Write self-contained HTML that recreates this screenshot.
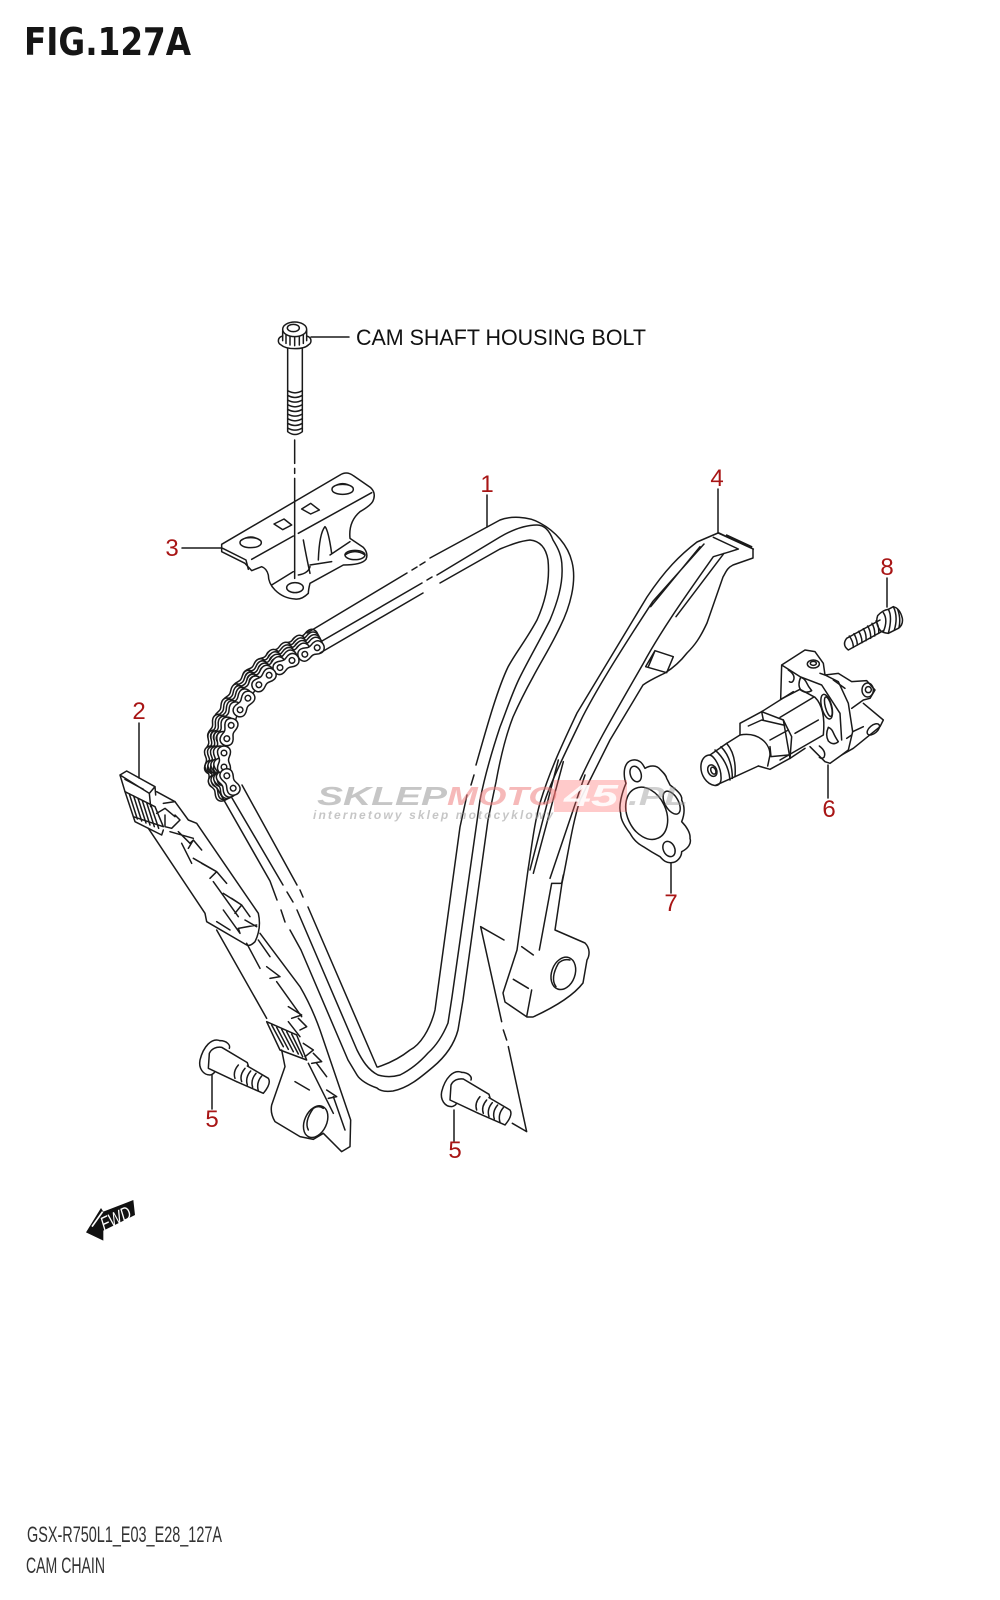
<!DOCTYPE html>
<html><head><meta charset="utf-8"><title>FIG.127A CAM CHAIN</title>
<style>
html,body{margin:0;padding:0;background:#fff;width:1000px;height:1600px;overflow:hidden}
svg{display:block}
.l,.l *{fill:none;stroke:#1a1a1a;stroke-width:1.5;stroke-linecap:round;stroke-linejoin:round;vector-effect:non-scaling-stroke}
.w{fill:#fff!important}
.n{font-family:"Liberation Sans",sans-serif;font-size:24px;fill:#a81515;text-anchor:middle}
</style></head><body>
<svg width="1000" height="1600" viewBox="0 0 1000 1600" xmlns="http://www.w3.org/2000/svg">
<defs>
<path id="pl" d="M-8,-6.5C-4,-6.5 -3,-4.5 0,-4.5C3,-4.5 4,-6.5 8,-6.5C12,-6.5 14,-3 14,0C14,3 12,6.5 8,6.5C4,6.5 3,4.5 0,4.5C-3,4.5 -4,6.5 -8,6.5C-12,6.5 -14,3 -14,0C-14,-3 -12,-6.5 -8,-6.5Z"/>
<g id="front">
<use href="#pl" class="w"/>
<circle cx="-7" cy="0" r="2.8" class="w"/><circle cx="7" cy="0" r="2.8" class="w"/>
</g>
<g id="lay13">
<use href="#pl" class="w" transform="translate(311,651) rotate(-28) translate(0,-13)"/>
<use href="#pl" class="w" transform="translate(299,657) rotate(-29) translate(0,-13)"/>
<use href="#pl" class="w" transform="translate(286,664) rotate(-31) translate(0,-13)"/>
<use href="#pl" class="w" transform="translate(275,671) rotate(-36) translate(0,-13)"/>
<use href="#pl" class="w" transform="translate(264,680) rotate(-43) translate(0,-13)"/>
<use href="#pl" class="w" transform="translate(254,691) rotate(-50) translate(0,-13)"/>
<use href="#pl" class="w" transform="translate(244,704) rotate(-56) translate(0,-13)"/>
<use href="#pl" class="w" transform="translate(236,717) rotate(-64) translate(0,-13)"/>
<use href="#pl" class="w" transform="translate(229,732) rotate(-72) translate(0,-13)"/>
<use href="#pl" class="w" transform="translate(226,746) rotate(-81) translate(0,-13)"/>
<use href="#pl" class="w" transform="translate(224,760) rotate(-90) translate(0,-13)"/>
<use href="#pl" class="w" transform="translate(226,771) rotate(-103) translate(0,-13)"/>
<use href="#pl" class="w" transform="translate(230,782) rotate(-117) translate(0,-13)"/>
</g>
<g id="lay10">
<use href="#pl" class="w" transform="translate(311,651) rotate(-28) translate(0,-10)"/>
<use href="#pl" class="w" transform="translate(299,657) rotate(-29) translate(0,-10)"/>
<use href="#pl" class="w" transform="translate(286,664) rotate(-31) translate(0,-10)"/>
<use href="#pl" class="w" transform="translate(275,671) rotate(-36) translate(0,-10)"/>
<use href="#pl" class="w" transform="translate(264,680) rotate(-43) translate(0,-10)"/>
<use href="#pl" class="w" transform="translate(254,691) rotate(-50) translate(0,-10)"/>
<use href="#pl" class="w" transform="translate(244,704) rotate(-56) translate(0,-10)"/>
<use href="#pl" class="w" transform="translate(236,717) rotate(-64) translate(0,-10)"/>
<use href="#pl" class="w" transform="translate(229,732) rotate(-72) translate(0,-10)"/>
<use href="#pl" class="w" transform="translate(226,746) rotate(-81) translate(0,-10)"/>
<use href="#pl" class="w" transform="translate(224,760) rotate(-90) translate(0,-10)"/>
<use href="#pl" class="w" transform="translate(226,771) rotate(-103) translate(0,-10)"/>
<use href="#pl" class="w" transform="translate(230,782) rotate(-117) translate(0,-10)"/>
</g>
<g id="lay7">
<use href="#pl" class="w" transform="translate(311,651) rotate(-28) translate(0,-7)"/>
<use href="#pl" class="w" transform="translate(299,657) rotate(-29) translate(0,-7)"/>
<use href="#pl" class="w" transform="translate(286,664) rotate(-31) translate(0,-7)"/>
<use href="#pl" class="w" transform="translate(275,671) rotate(-36) translate(0,-7)"/>
<use href="#pl" class="w" transform="translate(264,680) rotate(-43) translate(0,-7)"/>
<use href="#pl" class="w" transform="translate(254,691) rotate(-50) translate(0,-7)"/>
<use href="#pl" class="w" transform="translate(244,704) rotate(-56) translate(0,-7)"/>
<use href="#pl" class="w" transform="translate(236,717) rotate(-64) translate(0,-7)"/>
<use href="#pl" class="w" transform="translate(229,732) rotate(-72) translate(0,-7)"/>
<use href="#pl" class="w" transform="translate(226,746) rotate(-81) translate(0,-7)"/>
<use href="#pl" class="w" transform="translate(224,760) rotate(-90) translate(0,-7)"/>
<use href="#pl" class="w" transform="translate(226,771) rotate(-103) translate(0,-7)"/>
<use href="#pl" class="w" transform="translate(230,782) rotate(-117) translate(0,-7)"/>
</g>
<g id="lay4">
<use href="#pl" class="w" transform="translate(311,651) rotate(-28) translate(0,-4)"/>
<use href="#pl" class="w" transform="translate(299,657) rotate(-29) translate(0,-4)"/>
<use href="#pl" class="w" transform="translate(286,664) rotate(-31) translate(0,-4)"/>
<use href="#pl" class="w" transform="translate(275,671) rotate(-36) translate(0,-4)"/>
<use href="#pl" class="w" transform="translate(264,680) rotate(-43) translate(0,-4)"/>
<use href="#pl" class="w" transform="translate(254,691) rotate(-50) translate(0,-4)"/>
<use href="#pl" class="w" transform="translate(244,704) rotate(-56) translate(0,-4)"/>
<use href="#pl" class="w" transform="translate(236,717) rotate(-64) translate(0,-4)"/>
<use href="#pl" class="w" transform="translate(229,732) rotate(-72) translate(0,-4)"/>
<use href="#pl" class="w" transform="translate(226,746) rotate(-81) translate(0,-4)"/>
<use href="#pl" class="w" transform="translate(224,760) rotate(-90) translate(0,-4)"/>
<use href="#pl" class="w" transform="translate(226,771) rotate(-103) translate(0,-4)"/>
<use href="#pl" class="w" transform="translate(230,782) rotate(-117) translate(0,-4)"/>
</g>
</defs>

<!-- headers -->
<text x="24" y="55" font-family="'DejaVu Sans','Liberation Sans',sans-serif" font-weight="700" font-size="38" fill="#151515" textLength="167" lengthAdjust="spacingAndGlyphs">FIG.127A</text>
<text x="27" y="1542" font-family="'Liberation Sans Narrow','Liberation Sans',sans-serif" font-size="22" fill="#333" textLength="195" lengthAdjust="spacingAndGlyphs">GSX-R750L1_E03_E28_127A</text>
<text x="26" y="1573" font-family="'Liberation Sans Narrow','Liberation Sans',sans-serif" font-size="22" fill="#333" textLength="79" lengthAdjust="spacingAndGlyphs">CAM CHAIN</text>
<text x="356" y="345" font-family="'Liberation Sans',sans-serif" font-size="22" fill="#111" textLength="290" lengthAdjust="spacingAndGlyphs">CAM SHAFT HOUSING BOLT</text>

<g class="l">
<!-- leaders -->
<path d="M311,337H349M487,495V527M139,723V778M182,548H222M718,489V533M887,578V607M828,765V798M671,863V893M212,1075V1109M454,1110V1141"/>

<!-- Z1: bolt and bracket -->
<g transform="translate(0,300) scale(.33333)">
<path d="M848,92V122M920,92V122M858,105V130M870,110V135M884,112V137M898,110V135M910,105V130"/>
<ellipse cx="884" cy="88" rx="36" ry="22"/><ellipse cx="880" cy="84" rx="18" ry="11"/>
<path d="M848,108C832,112 832,128 842,134C860,150 910,150 926,134C936,128 936,112 920,108"/>
<path d="M863,147V395Q885,412 907,395V147"/>
<path d="M863,272Q885,285 907,272M863,286Q885,299 907,286M863,300Q885,313 907,300M863,314Q885,327 907,314M863,328Q885,341 907,328M863,342Q885,355 907,342M863,356Q885,369 907,356M863,370Q885,383 907,370M863,384Q885,397 907,384"/>
<path d="M884,420V490M884,505V520M884,535V835"/>
<!-- bracket 3 -->
<path d="M665,733L1020,525Q1040,512 1060,527L1112,563Q1130,580 1118,605Q1110,618 1080,635Q1045,665 1050,715L1090,742Q1106,760 1098,778Q1085,795 1030,795L930,850Q925,870 925,880Q905,900 885,897Q850,895 825,870Q805,850 805,825Q800,805 785,800L755,812L735,790L665,755Z"/>
<path d="M668,745L738,780L745,808M755,778L880,708M895,700L1115,578"/>
<path d="M720,728C720,708 784,708 784,728C784,748 720,748 720,728ZM722,722Q752,700 782,722"/>
<path d="M996,568C996,548 1060,548 1060,568C1060,588 996,588 996,568ZM998,562Q1028,540 1058,562"/>
<path d="M822,672L852,657L875,675L848,689ZM905,627L932,610L958,630L932,642Z"/>
<path d="M910,720Q918,765 930,820M955,780Q958,700 975,680Q985,690 995,760M930,795L995,785M990,765L1050,725"/>
<path d="M815,855L880,815M895,825Q925,820 930,800"/>
<ellipse cx="885" cy="863" rx="25" ry="15"/><path d="M1035,765Q1065,745 1095,765"/><ellipse cx="1065" cy="765" rx="30" ry="14"/>
</g>

<!-- chain stacked layers -->
<use href="#lay13"/>
<use href="#lay10"/>
<use href="#lay7"/>
<use href="#lay4"/>
<!-- chain front plates -->
<use href="#front" transform="translate(286,664) rotate(-31)"/>
<use href="#front" transform="translate(264,680) rotate(-43)"/>
<use href="#front" transform="translate(244,704) rotate(-56)"/>
<use href="#front" transform="translate(229,732) rotate(-72)"/>
<use href="#front" transform="translate(224,760) rotate(-90)"/>
<use href="#front" transform="translate(230,782) rotate(-117)"/>
<use href="#front" transform="translate(311,651) rotate(-28)"/>

<!-- chain outline A (outer) -->
<path d="M307,633L407,573M412,570L417,567M420,565L425,562M430,558L500,520C510,516 528,516 540,523C555,531 568,545 572,562C577,582 570,607 560,627C550,648 542,660 533,677C522,697 517,708 513,717C506,735 500,760 496,782L488,820L463,1000L458,1030C454,1045 445,1057 433,1067C420,1078 408,1088 393,1091C385,1092 380,1091 377,1088C368,1085 360,1080 357,1075L348,1060L301,950L290,930M285,922L281,910M277,900L270,881M217,788L270,881"/>
<!-- chain outline B (middle) -->
<path d="M322,641L422,583M427,580L432,577M437,575L500,537C512,530 525,525 537,525C545,525 550,532 553,540C558,548 562,556 562,567C563,585 557,603 550,620C540,640 530,657 520,677C512,693 506,712 500,727C494,745 485,775 480,800L452,997L448,1023C443,1035 437,1045 428,1053C420,1062 410,1070 400,1075C393,1077 385,1077 378,1075C368,1070 362,1060 357,1050L297,910M293,902L287,892M283,885L232,798"/>
<!-- chain outline C (inner) -->
<path d="M320,653L423,593M440,583L500,549C510,545 520,541 530,540C540,541 546,548 548,560C550,580 546,600 537,620C525,642 516,652 508,667C497,690 486,730 476,765M474,775L471,785M467,795L460,827L435,1010C430,1030 420,1045 410,1050C400,1058 390,1063 378,1067L377,1067L308,907M303,897L300,890M297,885L242,785"/>

<!-- guide 2 upper -->
<g transform="translate(110,760) scale(.33333)">
<path d="M30,45L50,33L135,80L118,100ZM30,45L45,95M45,58L100,88M118,100L122,140M135,80L137,105"/>
<path d="M45,95L135,140L160,200L70,170Z"/>
<path d="M58,102L82,177M71,108L95,183M84,115L108,189M97,122L120,195M110,128L133,200M122,134L146,205"/>
<path d="M70,170L75,185L155,225L160,210"/>
<path d="M140,95L195,125L235,180L260,190L445,460Q455,505 435,545Q420,560 410,555L290,485L285,460L115,205"/>
<path d="M160,130L195,125M140,160L165,145L195,170M165,165V200L185,205L210,180L195,165"/>
<path d="M180,215L250,235M205,215L240,250L250,240L275,270M235,265L250,240M215,250L245,310M250,295L320,335L275,310M300,355L320,335L350,370M310,365L385,470M340,400L395,435L365,415M375,460L395,435L420,470M340,450L390,520L385,505L440,495M320,485L360,510M405,480L440,500"/>
</g>

<!-- Z3 group: guide 2 lower, bolts, triangle -->
<g transform="translate(100,700) scale(.33333)">
<path d="M350,690L500,955M480,700L600,860Q635,920 660,990L752,1260L750,1340L725,1355L670,1300L640,1318L600,1310L525,1265Q510,1240 515,1215L555,1100L545,1050"/>
<path d="M500,965L590,1005L620,1080L540,1050Z"/>
<path d="M515,975L550,1040M530,982L565,1048M545,988L580,1055M560,995L595,1062M575,1002L608,1070"/>
<path d="M440,730L480,805M475,720L510,770M500,800L540,830L510,835M530,845L605,950M565,920L605,945L575,955M595,955L620,980L600,990M565,965L600,1010M610,1030L640,1050L615,1070M640,1060L665,1085L635,1090M650,1090L680,1130M680,1170L710,1190L685,1195M700,1190L735,1290M625,1090L700,1240M585,1145L628,1170"/>
<ellipse cx="647" cy="1265" rx="33" ry="50" transform="rotate(25 647 1265)"/>
<path d="M625,1290Q612,1265 640,1225Q655,1215 670,1225"/>
<!-- bolts 5 -->
<g id="b5">
<path d="M360,1022C335,1012 310,1040 300,1080C295,1105 310,1125 330,1125C330,1125 340,1124 345,1115"/>
<path d="M360,1022C380,1022 392,1035 388,1045"/>
<path d="M328,1060C335,1045 350,1040 365,1042L442,1088L445,1098M328,1060L325,1105L410,1145"/>
<path d="M415,1095Q398,1115 405,1135M435,1105Q418,1125 425,1145M452,1113Q435,1133 442,1155M468,1120Q451,1140 458,1162M485,1128Q468,1148 475,1172"/>
<path d="M442,1098L505,1135Q515,1150 490,1180L410,1145"/>
</g>
<use href="#b5" transform="translate(725,95)"/>
<!-- triangle -->
<path d="M1142,680L1212,720M1142,680L1205,965M1210,990L1220,1020M1225,1040L1280,1295L1237,1270"/>
<!-- guide 4 boss marks -->
<path d="M1265,740L1300,765M1240,838L1285,865M1295,870L1280,950"/>
<ellipse cx="1390" cy="820" rx="35" ry="50" transform="rotate(20 1390 820)"/>
<path d="M1368,860Q1350,835 1375,790Q1390,775 1410,780"/>
</g>

<!-- guide 4 -->
<path d="M503,993L517,950L528,870C532,845 534,825 540,803C550,770 562,745 577,713L647,597C665,570 680,555 697,542L718,533L753,549V558L733,565C727,568 726,572 723,577L707,623C700,638 695,645 687,653C680,662 673,668 665,673C657,677 650,680 643,685L610,740C600,760 590,780 580,800C572,825 568,855 562,883L555,930L585,943C590,948 590,955 587,960L583,983Q570,1000 533,1017H527L505,1002Z"/>
<g transform="translate(500,450) scale(.33333)">
<path d="M612,282L458,455C370,590 300,700 248,800C200,900 150,1000 132,1060M600,290L452,470"/>
<path d="M690,305L640,320C570,420 490,530 430,640C350,780 290,880 240,990M672,310L528,500M640,262L715,297L690,305M655,248L760,297M680,255L755,290"/>
<path d="M190,935L100,1270M175,930L90,1260M255,975L150,1285M155,1300H185L190,1275M155,1300L118,1500"/>
<path d="M465,602L520,620L500,668L437,650ZM465,602L445,650"/>
<!-- gasket 7 -->
<path d="M378,945C385,930 405,925 420,935C428,940 432,950 435,955C450,945 470,945 480,958C490,968 498,975 500,985C505,995 508,1000 510,1005C530,1020 548,1035 545,1050C555,1070 555,1090 545,1115C560,1130 572,1150 570,1165C575,1180 565,1195 545,1205C545,1222 530,1238 515,1238C500,1240 490,1232 480,1220C465,1212 445,1200 430,1190C410,1180 398,1165 390,1150C375,1130 362,1110 362,1090C355,1070 365,1030 378,1000C372,985 370,960 378,945Z"/>
<ellipse cx="440" cy="1090" rx="58" ry="82" transform="rotate(-25 440 1090)"/>
<ellipse cx="407" cy="972" rx="16" ry="24" transform="rotate(-20 407 972)"/>
<ellipse cx="515" cy="1058" rx="20" ry="38" transform="rotate(-30 515 1058)"/>
<ellipse cx="507" cy="1197" rx="17" ry="24" transform="rotate(-25 507 1197)"/>
<!-- bolt 8 -->
<path d="M1133,497Q1148,480 1165,478L1180,470Q1200,475 1207,505Q1210,525 1195,535L1165,550Q1145,548 1140,540Q1125,520 1133,497Z"/>
<path d="M1165,478Q1178,500 1165,550M1180,470Q1195,500 1183,540M1193,478Q1203,505 1197,533M1150,488Q1165,510 1150,545"/>
<path d="M1140,510L1040,565Q1025,585 1045,600L1150,542"/>
<path d="M1048,558Q1060,575 1060,592M1062,551Q1072,570 1072,585M1076,544Q1086,560 1086,578M1090,536Q1100,552 1098,572M1103,528Q1113,545 1112,565M1116,520Q1126,538 1124,558M1128,513Q1138,530 1136,550"/>
</g>

<!-- tensioner left: nose, plunger, nut -->
<g transform="translate(695,640) scale(.33333)">
<path d="M18,375C20,355 32,345 45,345C60,350 78,385 78,410C80,430 70,438 58,436C35,432 15,405 18,375Z"/>
<ellipse cx="52" cy="392" rx="13" ry="18" transform="rotate(-25 52 392)"/>
<ellipse cx="55" cy="392" rx="7" ry="11" transform="rotate(-25 55 392)"/>
<path d="M45,345L95,310L135,285M62,436L120,410L190,378"/>
<path d="M60,330Q100,365 105,420M95,310Q125,345 120,410M78,320Q112,355 112,415"/>
<path d="M135,250L200,215L265,240L290,290L285,355L225,388L190,378M135,250L135,285C190,275 225,310 225,345L218,378"/>
<path d="M160,258L200,240L265,255M225,300L280,270M225,320L228,350L280,345M200,215L205,240M265,240L285,355"/>
<path d="M200,215L295,155M285,355L330,325"/>
</g>

<!-- tensioner right: cylinder, flange, rear -->
<g transform="translate(780,640) scale(.33333)">
<path d="M2,178L60,148L105,172Q138,205 130,285L0,360M0,232L100,172M45,280L115,240"/>
<path d="M5,75L75,30L105,35L130,70L135,105L175,125L205,190L218,275L205,330L185,345L150,370L135,365L90,320M5,75L2,178M5,75L60,110L125,135L180,220L185,300"/>
<path d="M135,105L175,100L215,125L260,122L285,150L270,175L250,180L215,205M250,190L310,240L300,260L220,325L185,345M218,275L250,260M200,295L215,285M120,100L135,105M160,120L195,145"/>
<ellipse cx="100" cy="72" rx="18" ry="12"/><ellipse cx="100" cy="70" rx="9" ry="6"/>
<ellipse cx="263" cy="150" rx="17" ry="21"/><circle cx="265" cy="149" r="9"/>
<ellipse cx="140" cy="200" rx="15" ry="38" transform="rotate(-15 140 200)"/>
<ellipse cx="145" cy="200" rx="9" ry="30" transform="rotate(-15 145 200)"/>
<path d="M62,112Q52,135 62,150Q78,162 95,152Q85,140 78,125Q72,114 62,112Z"/>
<path d="M145,262Q135,285 145,303Q160,318 175,305Q165,290 160,278Q155,266 145,262Z"/>
<path d="M25,90Q48,105 40,122Q35,130 28,125M118,318Q140,335 132,352Q125,358 118,352"/>
<ellipse cx="280" cy="268" rx="22" ry="12" transform="rotate(-40 280 268)"/>
</g>
</g>

<!-- number labels -->
<text class="n" x="487" y="492">1</text>
<text class="n" x="139" y="719">2</text>
<text class="n" x="172" y="556">3</text>
<text class="n" x="717" y="486">4</text>
<text class="n" x="212" y="1127">5</text>
<text class="n" x="455" y="1158">5</text>
<text class="n" x="829" y="817">6</text>
<text class="n" x="671" y="911">7</text>
<text class="n" x="887" y="575">8</text>

<!-- FWD -->
<g transform="translate(0,1200) scale(.33333)">
<path d="M258,97L303,24L310,35L400,0L405,45L310,92L310,122Z" fill="#111"/>
<path d="M276,80L308,35" stroke="#fff" stroke-width="5" fill="none"/>
<text x="0" y="0" transform="translate(312,92) rotate(-25)" font-family="'Liberation Sans',sans-serif" font-style="italic" font-size="56" fill="#fff" textLength="95" lengthAdjust="spacingAndGlyphs">FWD</text>
</g>

<!-- watermark -->
<g font-family="'Liberation Sans',sans-serif" font-weight="700" font-style="italic">
<text x="317" y="805" font-size="26" fill="#999" opacity=".55" textLength="130" lengthAdjust="spacingAndGlyphs">SKLEP</text>
<text x="447" y="805" font-size="26" fill="#f08080" opacity=".55" textLength="110" lengthAdjust="spacingAndGlyphs">MOTO</text>
<rect x="554" y="780" width="73" height="32" fill="#f66" opacity=".35"/>
<text x="564" y="806" font-size="31" fill="#fff" opacity=".9" textLength="54" lengthAdjust="spacingAndGlyphs">45</text>
<text x="628" y="805" font-size="26" fill="#999" opacity=".45" textLength="60" lengthAdjust="spacingAndGlyphs">.PL</text>
<text x="313" y="819" font-size="12" fill="#999" opacity=".55" textLength="240" lengthAdjust="spacing">internetowy sklep motocyklowy</text>
</g>
</svg>
</body></html>
